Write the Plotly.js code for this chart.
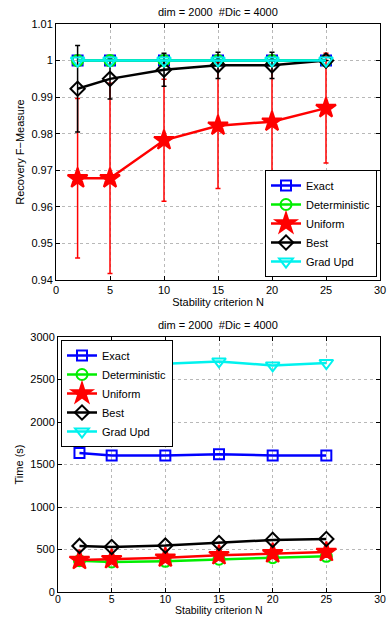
<!DOCTYPE html>
<html><head><meta charset="utf-8">
<script src="https://cdn.plot.ly/plotly-3.0.1.min.js"></script>
<style>html,body{margin:0;padding:0;background:#fff;}#chart{width:388px;height:617px;}</style>
</head><body><div id="chart"></div>
<script>
const N = [2, 5, 10, 15, 20, 25];
const seriesNames = ['Exact', 'Deterministic', 'Uniform', 'Best', 'Grad Upd'];

// Top panel: Recovery F-Measure
const fExact = [1, 1, 1, 1, 1, 1];
const fDeterministic = [1, 1, 1, 1, 1, 1];
const fUniform = [0.9678, 0.9678, 0.9782, 0.9822, 0.9833, 0.9870];
const fUniformErr = [0.0218, 0.0260, 0.0167, 0.0172, 0.0153, 0.0150];
const fBest = [0.9923, 0.9950, 0.9975, 0.9987, 0.9987, 1.0];
const fBestErr = [0.0118, 0.0055, 0.0045, 0.0036, 0.0036, 0.0];
const fGradUpd = [1, 1, 1, 1, 1, 1];

// Bottom panel: Time (s)
const tExact = [1634, 1606, 1606, 1622, 1606, 1606];
const tDeterministic = [369, 353, 361, 385, 404, 420];
const tUniform = [377, 385, 404, 432, 455, 471];
const tBest = [542, 530, 546, 577, 613, 624];
const tGradUpd = [2700, 2700, 2686, 2713, 2666, 2694];

const fTickVals = [0.94, 0.95, 0.96, 0.97, 0.98, 0.99, 1, 1.01];
const fTickText = ['0.94', '0.95', '0.96', '0.97', '0.98', '0.99', '1', '1.01'];
const xTickVals = [0, 5, 10, 15, 20, 25, 30];
const tTickVals = [0, 500, 1000, 1500, 2000, 2500, 3000];

const colors = ['#0000ff', '#00ee00', '#ff0000', '#000000', '#00f2ee'];
const symbols = ['square-open', 'circle-open', 'star', 'diamond-open', 'triangle-down-open'];
const sizes = [10, 11, 15, 11, 12];

function mk(i, y, xa, ya, leg, err) {
  const t = {
    x: N, y: y, name: seriesNames[i], type: 'scatter', mode: 'lines+markers',
    xaxis: xa, yaxis: ya, legend: leg,
    line: {color: colors[i], width: 2.5},
    marker: {symbol: symbols[i], size: sizes[i], color: colors[i], line: {color: colors[i], width: 2}}
  };
  if (err) t.error_y = {type: 'data', array: err, visible: true, color: colors[i], thickness: 1.5, width: 2.5};
  return t;
}

const data = [
  mk(0, fExact, 'x', 'y', 'legend'),
  mk(1, fDeterministic, 'x', 'y', 'legend'),
  mk(2, fUniform, 'x', 'y', 'legend', fUniformErr),
  mk(3, fBest, 'x', 'y', 'legend', fBestErr),
  mk(4, fGradUpd, 'x', 'y', 'legend'),
  mk(0, tExact, 'x2', 'y2', 'legend2'),
  mk(1, tDeterministic, 'x2', 'y2', 'legend2'),
  mk(2, tUniform, 'x2', 'y2', 'legend2'),
  mk(3, tBest, 'x2', 'y2', 'legend2'),
  mk(4, tGradUpd, 'x2', 'y2', 'legend2')
];

const H = 617, W = 388;
const fnt = {family: 'Liberation Sans, Arial, sans-serif', size: 11, color: '#000'};
const fntS = {family: 'Liberation Sans, Arial, sans-serif', size: 10.5, color: '#000'};
const axBase = {
  showline: true, linecolor: '#000', linewidth: 1, mirror: 'ticks', ticks: 'inside', ticklen: 4,
  tickcolor: '#000', showgrid: true, gridcolor: '#b8b8b8', griddash: 'dot', gridwidth: 1,
  zeroline: false, tickfont: fnt
};

const layout = {
  width: W, height: H, margin: {l: 0, r: 0, t: 0, b: 0},
  paper_bgcolor: '#fff', plot_bgcolor: '#fff', font: fnt, showlegend: true,
  xaxis: Object.assign({}, axBase, {domain: [56/W, 380/W], range: [0, 30], tickvals: xTickVals, anchor: 'y',
    title: {text: 'Stability criterion N', font: fnt, standoff: 3}}),
  yaxis: Object.assign({}, axBase, {domain: [(H-280)/H, (H-24)/H], range: [0.94, 1.01], tickvals: fTickVals, ticktext: fTickText, anchor: 'x',
    title: {text: 'Recovery F−Measure', font: fnt, standoff: 4}}),
  xaxis2: Object.assign({}, axBase, {domain: [58/W, 380/W], range: [0, 30], tickvals: xTickVals, anchor: 'y2', tickfont: fntS, ticklabelstandoff: -3}),
  yaxis2: Object.assign({}, axBase, {domain: [(H-592)/H, (H-337)/H], range: [0, 3000], tickvals: tTickVals, anchor: 'x2',
    title: {text: 'Time (s)', font: fnt, standoff: 4}}),
  legend: {x: 377/W, y: (H-277)/H, xanchor: 'right', yanchor: 'bottom', bgcolor: '#fff', bordercolor: '#000', borderwidth: 1,
    font: {family: fnt.family, size: 11, color: '#000'}, tracegroupgap: 0, itemwidth: 30},
  legend2: {x: 61/W, y: (H-340)/H, xanchor: 'left', yanchor: 'top', bgcolor: '#fff', bordercolor: '#000', borderwidth: 1,
    font: {family: fnt.family, size: 11, color: '#000'}, tracegroupgap: 0, itemwidth: 30},
  annotations: [
    {text: 'dim = 2000  #Dic = 4000', xref: 'paper', yref: 'paper', x: 218/W, y: (H-12)/H, showarrow: false, font: fnt, xanchor: 'center', yanchor: 'middle'},
    {text: 'dim = 2000  #Dic = 4000', xref: 'paper', yref: 'paper', x: 218/W, y: (H-325)/H, showarrow: false, font: fnt, xanchor: 'center', yanchor: 'middle'},
    {text: 'Stability criterion N', xref: 'paper', yref: 'paper', x: 219/W, y: 0, showarrow: false, font: fntS, xanchor: 'center', yanchor: 'bottom', yshift: -1}
  ]
};

Plotly.newPlot('chart', data, layout, {displayModeBar: false, staticPlot: true});
</script></body></html>
